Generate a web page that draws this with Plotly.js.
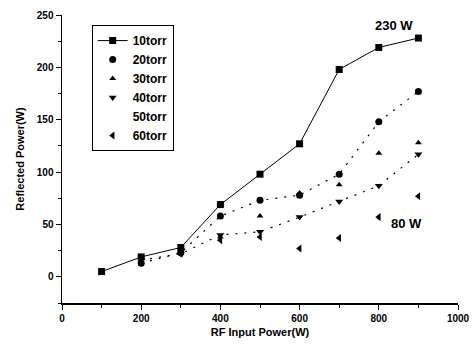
<!DOCTYPE html>
<html>
<head>
<meta charset="utf-8">
<script src="https://cdn.plot.ly/plotly-3.0.1.min.js"></script>
<style>html,body{margin:0;padding:0;background:#fff;}#chart{width:473px;height:350px;}</style>
</head>
<body>
<div id="chart"></div>
<script>
const xPower = [100, 200, 300, 400, 500, 600, 700, 800, 900];
const xHigh = [200, 300, 400, 500, 600, 700, 800, 900];
const torr10 = [5, 19, 28, 69, 98, 127, 198, 219, 228];
const torr20 = [13, 23, 58, 73, 78, 98, 148, 177];
const torr30 = [18, 24, 38, 58, 80, 88, 118, 128];
const torr40 = [16, 22, 40, 43, 57, 72, 87, 117];
const torr60 = [15, 22, 35, 38, 27, 37, 57, 77];
const seriesNames = ['10torr', '20torr', '30torr', '40torr', '50torr', '60torr'];
const annoLabels = ['230 W', '80 W'];
const annoX = [900, 900];
const annoY = [228, 77];

const font = {family: 'Liberation Sans, Arial, sans-serif', color: '#000'};
const traces = [
  {x: xPower, y: torr10, name: seriesNames[0], mode: 'lines+markers',
   line: {color: '#000', width: 1}, marker: {symbol: 'square', size: 7, color: '#000'}},
  {x: xHigh, y: torr20, showlegend: false, mode: 'lines', hoverinfo: 'skip',
   line: {color: '#000', width: 1.2, dash: '2px,7px'}},
  {x: xHigh, y: torr40, showlegend: false, mode: 'lines', hoverinfo: 'skip',
   line: {color: '#000', width: 1.2, dash: '2px,7px'}},
  {x: xHigh, y: torr20, name: seriesNames[1], mode: 'markers',
   marker: {symbol: 'circle', size: 7, color: '#000'}},
  {x: xHigh, y: torr30, name: seriesNames[2], mode: 'markers',
   marker: {symbol: 'triangle-up', size: 6, color: '#000'}},
  {x: xHigh, y: torr40, name: seriesNames[3], mode: 'markers',
   marker: {symbol: 'triangle-down', size: 7, color: '#000'}},
  {x: [null], y: [null], name: seriesNames[4], mode: 'markers',
   marker: {symbol: 'circle', size: 7, color: 'rgba(0,0,0,0)'}},
  {x: xHigh, y: torr60, name: seriesNames[5], mode: 'markers',
   marker: {symbol: 'triangle-left', size: 7, color: '#000'}}
];

const layout = {
  width: 473, height: 350,
  margin: {l: 62, r: 15, t: 15, b: 47},
  paper_bgcolor: '#fff', plot_bgcolor: '#fff',
  font: Object.assign({size: 10}, font),
  showlegend: true,
  legend: {x: 0.075, y: 0.965, xanchor: 'left', yanchor: 'top',
    bordercolor: '#000', borderwidth: 1, bgcolor: '#fff',
    font: Object.assign({size: 12, weight: 'bold'}, font),
    tracegroupgap: 0, itemwidth: 30},
  xaxis: {range: [0, 1000], tick0: 0, dtick: 200, showgrid: false, zeroline: false,
    showline: true, linecolor: '#000', linewidth: 1.5, ticks: 'outside', ticklen: 5,
    tickcolor: '#000', tickfont: Object.assign({size: 10, weight: 'bold'}, font),
    minor: {dtick: 100, ticks: 'outside', ticklen: 3, tickcolor: '#000'},
    title: {text: 'RF Input Power(W)', standoff: 6, font: Object.assign({size: 11, weight: 'bold'}, font)}},
  yaxis: {range: [-25, 250], tick0: 0, dtick: 50, showgrid: false, zeroline: false,
    showline: true, linecolor: '#000', linewidth: 1.5, ticks: 'outside', ticklen: 5,
    tickcolor: '#000', tickfont: Object.assign({size: 10, weight: 'bold'}, font),
    minor: {dtick: 25, ticks: 'outside', ticklen: 3, tickcolor: '#000'},
    title: {text: 'Reflected Power(W)', standoff: 10, font: Object.assign({size: 11, weight: 'bold'}, font)}},
  annotations: annoLabels.map((t, i) => ({
    x: annoX[i], y: annoY[i], text: t, showarrow: false,
    xanchor: 'right', yanchor: i === 0 ? 'bottom' : 'top',
    xshift: i === 0 ? -3 : 6, yshift: i === 0 ? 3 : -18,
    font: Object.assign({size: 13, weight: 'bold'}, font)}))
};

Plotly.newPlot('chart', traces, layout, {displayModeBar: false, staticPlot: true});
</script>
</body>
</html>
